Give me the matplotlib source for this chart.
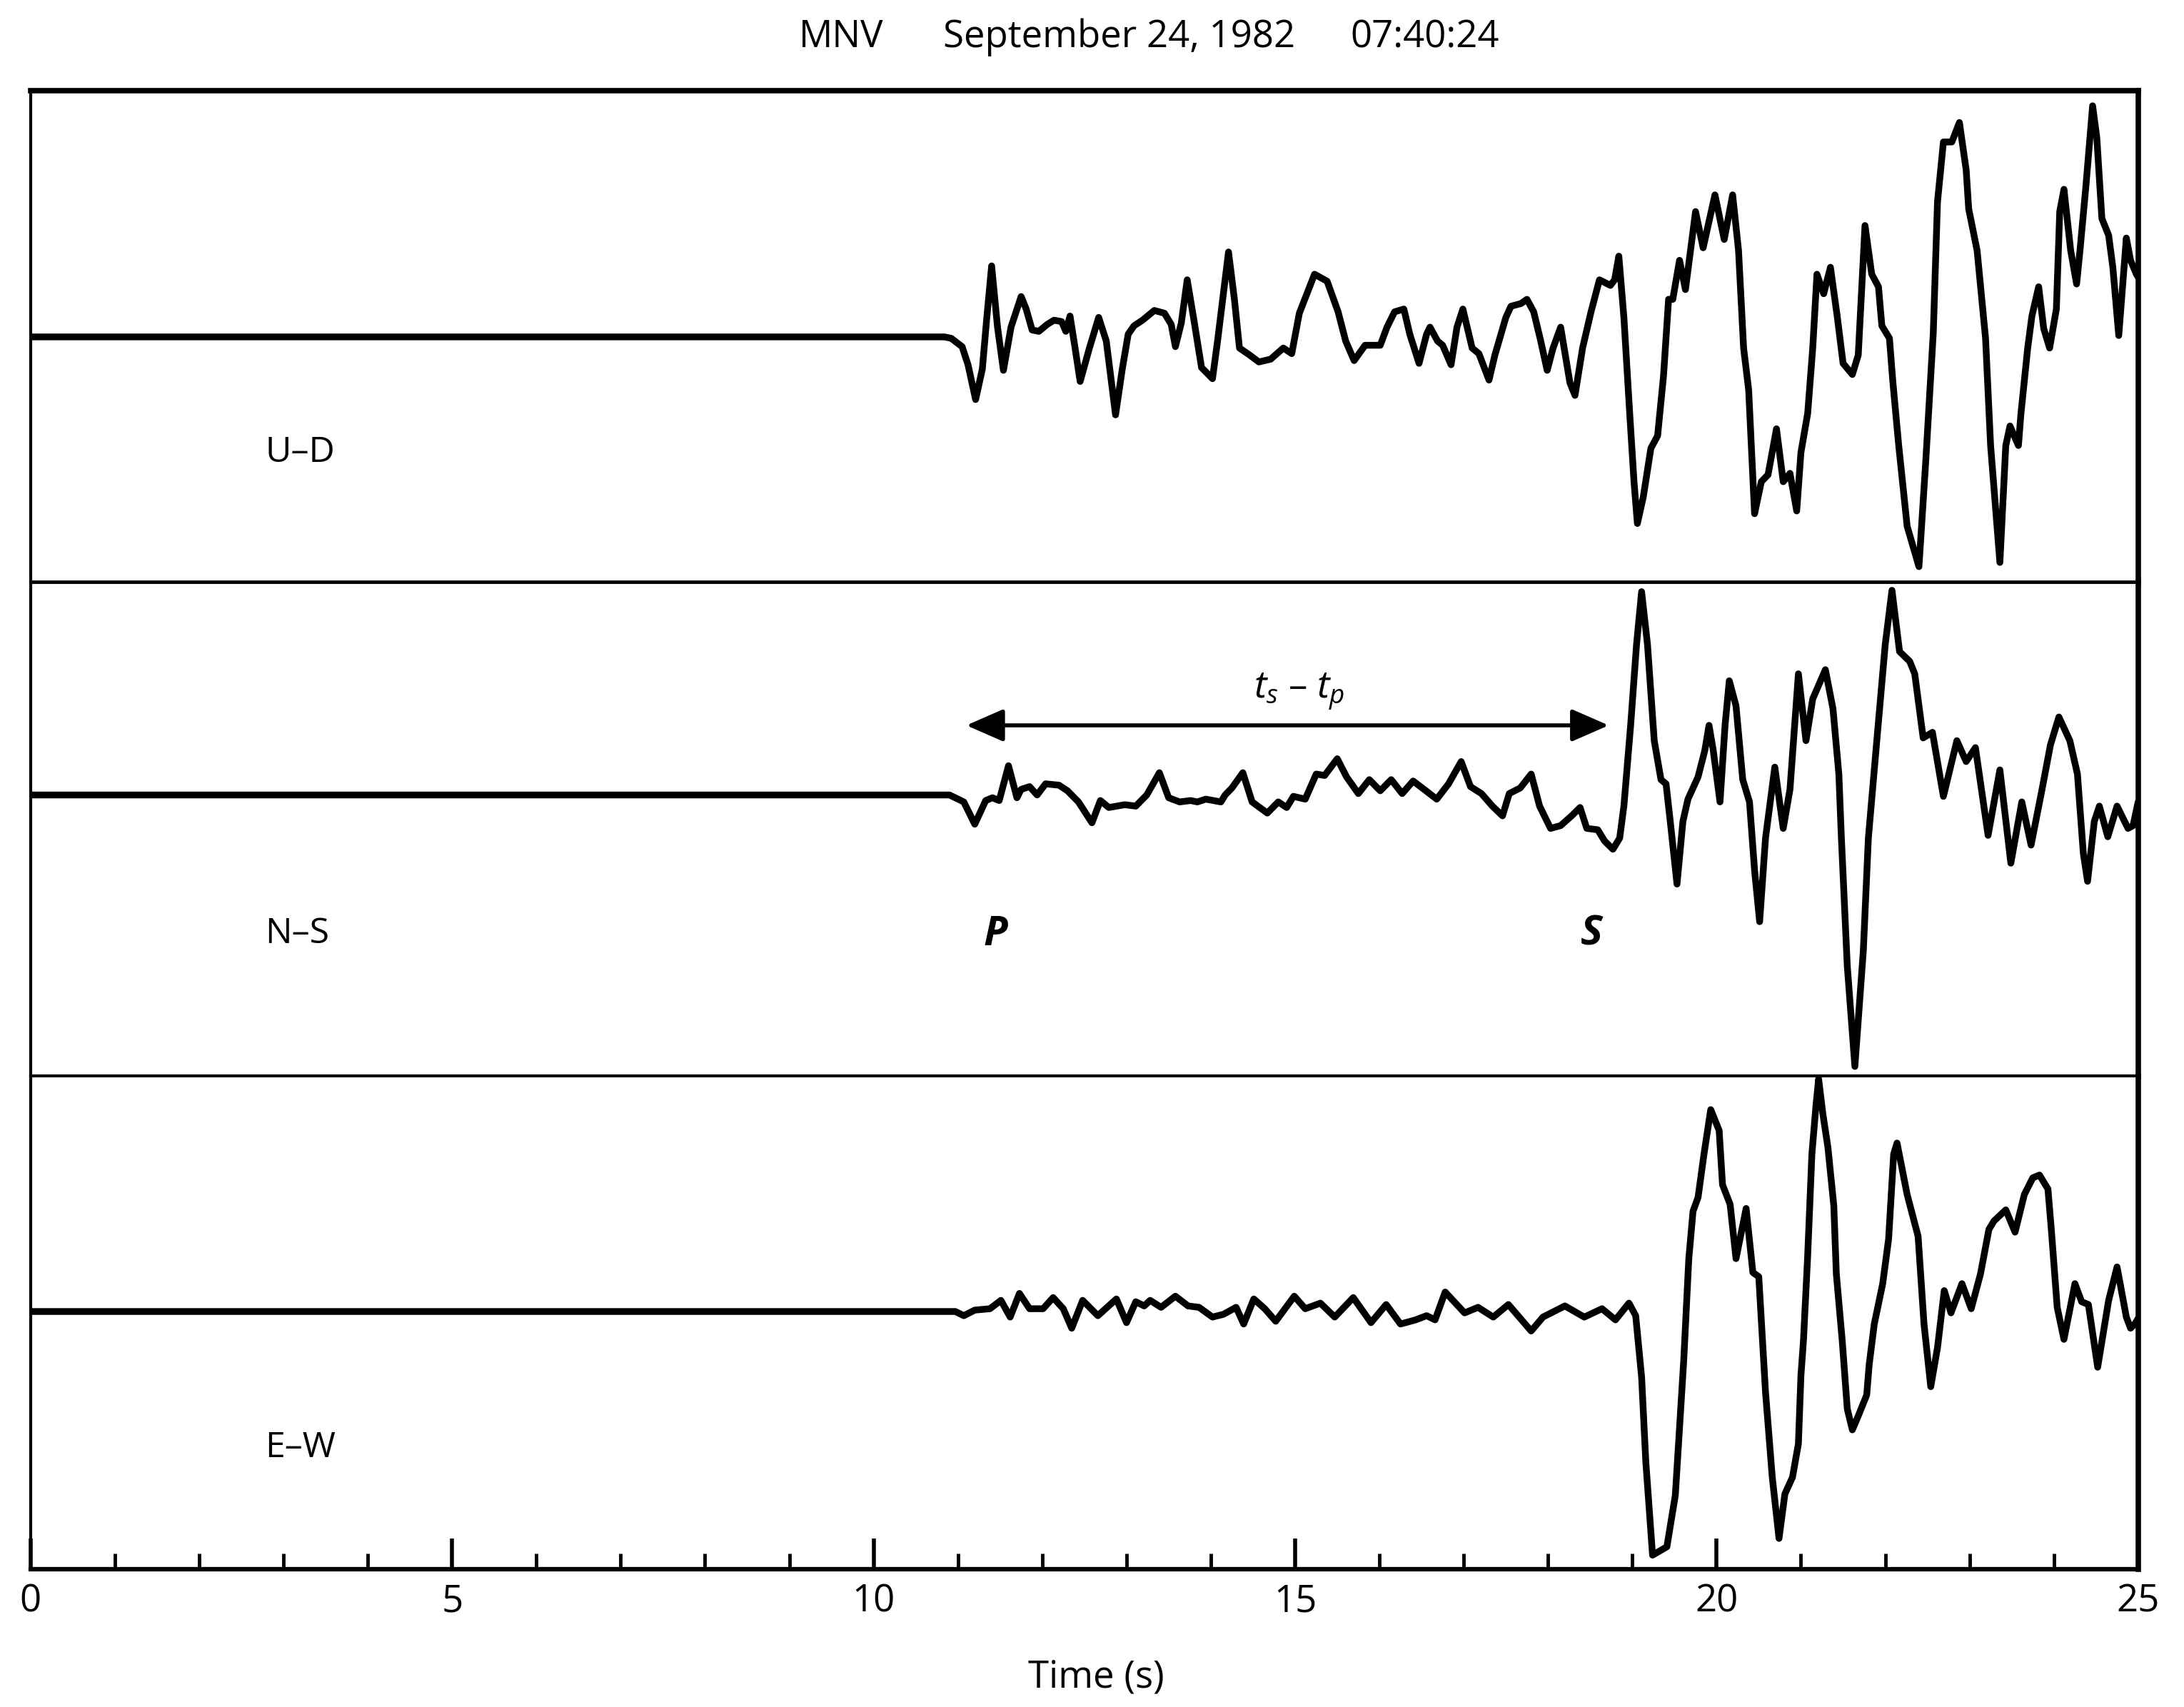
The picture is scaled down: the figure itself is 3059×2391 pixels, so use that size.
import matplotlib.pyplot as plt
import numpy as np

plt.rcParams['font.family'] = ['Open Sans', 'DejaVu Sans']
plt.rcParams['mathtext.fontset'] = 'custom'
plt.rcParams['mathtext.it'] = 'Open Sans:italic'
plt.rcParams['mathtext.rm'] = 'Open Sans'

# time (s) and amplitude (arbitrary units)
ud_t = [0.00, 10.84, 10.92, 11.05, 11.12, 11.21, 11.29, 11.34, 11.40, 11.47,
        11.54, 11.63, 11.75, 11.81, 11.88, 11.96, 12.06, 12.14, 12.23, 12.28,
        12.33, 12.39, 12.45, 12.56, 12.67, 12.76, 12.87, 12.95, 13.02, 13.09,
        13.19, 13.33, 13.45, 13.53, 13.58, 13.65, 13.72, 13.80, 13.89, 14.02,
        14.08, 14.21, 14.28, 14.34, 14.46, 14.57, 14.71, 14.86, 14.96, 15.05,
        15.23, 15.38, 15.51, 15.60, 15.70, 15.83, 16.01, 16.09, 16.18, 16.29,
        16.36, 16.47, 16.56, 16.60, 16.69, 16.75, 16.85, 16.92, 16.99, 17.10,
        17.18, 17.30, 17.37, 17.50, 17.56, 17.68, 17.75, 17.83, 17.91, 17.99,
        18.06, 18.15, 18.26, 18.32, 18.41, 18.51, 18.61, 18.74, 18.79, 18.84,
        18.90, 18.97, 19.02, 19.06, 19.13, 19.22, 19.30, 19.37, 19.43, 19.48,
        19.56, 19.63, 19.75, 19.84, 19.98, 20.09, 20.19, 20.26, 20.32, 20.38,
        20.43, 20.45, 20.53, 20.61, 20.71, 20.79, 20.87, 20.95, 21.00, 21.08,
        21.14, 21.19, 21.27, 21.35, 21.43, 21.50, 21.61, 21.68, 21.76, 21.84,
        21.92, 21.96, 22.05, 22.09, 22.16, 22.26, 22.40, 22.48, 22.57, 22.62,
        22.69, 22.79, 22.88, 22.96, 22.99, 23.09, 23.19, 23.25, 23.36, 23.43,
        23.48, 23.58, 23.61, 23.69, 23.74, 23.82, 23.88, 23.95, 24.03, 24.07,
        24.12, 24.20, 24.27, 24.31, 24.38, 24.46, 24.51, 24.57, 24.65, 24.70,
        24.77, 24.86, 24.91, 24.98, 25.00]
ud_a = [0, 0, -1, -7, -20, -45, -23, 12, 51, 7,
        -24, 7, 29, 20, 5, 4, 9, 12, 11, 4,
        15, -8, -32, -8, 14, -3, -56, -23, 2, 8,
        12, 19, 17, 9, -7, 10, 41, 12, -22, -30,
        -3, 61, 27, -8, -13, -18, -16, -8, -12, 17,
        45, 40, 18, -3, -17, -6, -6, 7, 18, 20,
        2, -19, 2, 7, -3, -6, -20, 7, 20, -8,
        -12, -31, -13, 14, 22, 24, 27, 18, -2, -24,
        -8, 7, -33, -42, -8, 18, 41, 37, 41, 58,
        14, -56, -104, -134, -115, -80, -71, -28, 27, 27,
        55, 34, 90, 64, 102, 70, 102, 62, -8, -38,
        -101, -127, -104, -99, -66, -104, -98, -125, -83, -55,
        -8, 45, 31, 50, 15, -19, -27, -13, 80, 45,
        36, 8, -1, -32, -78, -136, -165, -90, 3, 97,
        140, 140, 154, 120, 92, 62, -1, -78, -162, -78,
        -64, -78, -55, -8, 15, 36, 6, -8, 20, 90,
        106, 62, 38, 62, 108, 166, 143, 85, 73, 50,
        1, 71, 55, 45, 43]

ns_t = [0.00, 10.90, 11.07, 11.20, 11.33, 11.41, 11.49, 11.60, 11.70, 11.75,
        11.85, 11.94, 12.04, 12.20, 12.30, 12.43, 12.59, 12.69, 12.79, 12.98,
        13.11, 13.24, 13.39, 13.50, 13.63, 13.76, 13.84, 13.94, 14.12, 14.17,
        14.25, 14.38, 14.49, 14.67, 14.80, 14.90, 14.98, 15.12, 15.25, 15.35,
        15.50, 15.61, 15.75, 15.88, 16.01, 16.14, 16.27, 16.40, 16.53, 16.68,
        16.82, 16.97, 17.08, 17.21, 17.34, 17.46, 17.54, 17.67, 17.80, 17.90,
        18.03, 18.15, 18.28, 18.38, 18.46, 18.59, 18.67, 18.77, 18.85, 18.90,
        18.98, 19.05, 19.11, 19.18, 19.26, 19.34, 19.40, 19.45, 19.53, 19.60,
        19.66, 19.78, 19.86, 19.91, 19.96, 20.04, 20.10, 20.15, 20.23, 20.31,
        20.39, 20.45, 20.51, 20.58, 20.69, 20.79, 20.87, 20.97, 21.06, 21.14,
        21.29, 21.38, 21.45, 21.48, 21.55, 21.64, 21.74, 21.80, 21.90, 22.00,
        22.08, 22.17, 22.29, 22.35, 22.45, 22.56, 22.69, 22.85, 22.96, 23.07,
        23.22, 23.36, 23.49, 23.62, 23.73, 23.86, 23.96, 24.06, 24.19, 24.28,
        24.35, 24.40, 24.48, 24.54, 24.64, 24.75, 24.88, 24.94, 25.00]
ns_a = [0, 0, -5, -21, -4, -2, -4, 21, -2, 4,
        6, 0, 8, 7, 3, -5, -20, -4, -9, -7,
        -8, 0, 16, -2, -5, -4, -5, -3, -5, 0,
        5, 16, -5, -13, -5, -9, -1, -3, 15, 14,
        26, 13, 1, 11, 3, 11, 1, 10, 4, -3,
        8, 24, 6, 1, -8, -15, 1, 5, 15, -8,
        -24, -22, -15, -9, -24, -25, -33, -39, -31, -8,
        50, 108, 146, 108, 39, 11, 8, -19, -64, -19,
        -3, 13, 32, 50, 32, -5, 50, 82, 64, 11,
        -5, -54, -91, -31, 20, -24, 4, 87, 39, 69,
        90, 62, 15, -31, -123, -195, -112, -31, 39, 108,
        147, 103, 96, 87, 41, 45, -1, 39, 24, 34,
        -29, 18, -49, -5, -36, 4, 36, 56, 39, 15,
        -42, -62, -19, -8, -30, -8, -24, -22, -5]

ew_t = [0.00, 10.97, 11.07, 11.20, 11.38, 11.51, 11.62, 11.73, 11.85, 12.01,
        12.13, 12.25, 12.35, 12.48, 12.66, 12.88, 13.00, 13.11, 13.21, 13.28,
        13.41, 13.58, 13.73, 13.86, 14.02, 14.15, 14.30, 14.39, 14.51, 14.64,
        14.77, 14.99, 15.12, 15.30, 15.47, 15.69, 15.90, 16.08, 16.25, 16.43,
        16.56, 16.66, 16.78, 17.01, 17.17, 17.35, 17.53, 17.80, 17.94, 18.20,
        18.43, 18.64, 18.80, 18.96, 19.04, 19.11, 19.16, 19.24, 19.41, 19.51,
        19.61, 19.67, 19.72, 19.78, 19.85, 19.93, 20.03, 20.07, 20.16, 20.23,
        20.35, 20.43, 20.50, 20.58, 20.66, 20.74, 20.81, 20.90, 20.97, 21.00,
        21.03, 21.08, 21.13, 21.18, 21.21, 21.26, 21.32, 21.39, 21.42, 21.49,
        21.55, 21.61, 21.68, 21.78, 21.81, 21.87, 21.97, 22.04, 22.10, 22.14,
        22.26, 22.39, 22.46, 22.54, 22.62, 22.70, 22.78, 22.91, 23.02, 23.13,
        23.23, 23.29, 23.43, 23.54, 23.65, 23.75, 23.83, 23.93, 23.97, 24.04,
        24.12, 24.25, 24.33, 24.41, 24.52, 24.65, 24.75, 24.86, 24.91, 24.96,
        25.00]
ew_a = [0, 0, -3, 1, 2, 8, -4, 13, 2, 2,
        10, 2, -12, 8, -3, 9, -8, 7, 4, 8,
        3, 11, 4, 3, -4, -2, 3, -9, 9, 2,
        -7, 11, 2, 6, -4, 10, -8, 5, -9, -6,
        -3, -6, 14, -1, 3, -4, 5, -14, -4, 4,
        -4, 2, -6, 6, -3, -47, -108, -175, -169, -132,
        -35, 38, 72, 82, 113, 145, 130, 91, 77, 38,
        74, 28, 25, -58, -119, -163, -131, -119, -95, -46,
        -21, 40, 113, 149, 167, 142, 118, 76, 27, -21,
        -70, -85, -75, -60, -38, -9, 20, 52, 113, 121,
        84, 54, -9, -54, -26, 15, -1, 20, 2, 27,
        59, 65, 73, 57, 84, 96, 98, 88, 59, 3,
        -20, 20, 7, 5, -40, 8, 32, -4, -12, -9,
        -5]

components = ['U–D', 'N–S', 'E–W']
traces = [(ud_t, ud_a), (ns_t, ns_a), (ew_t, ew_a)]
ylims = [(-176, 177), (-202, 153), (-185, 169)]
label_y = [-83, -100, -98]

fig = plt.figure(figsize=(30.59, 23.91), dpi=100)
gs = fig.add_gridspec(3, 1, height_ratios=[353, 355, 354], hspace=0,
                      left=0.0140, right=0.9790, top=0.9470, bottom=0.0808)
axes = []
for i in range(3):
    ax = fig.add_subplot(gs[i], sharex=axes[0] if axes else None)
    t, a = traces[i]
    ax.plot(t, a, color='black', lw=6.8, solid_joinstyle='round',
            solid_capstyle='round')
    ax.set_xlim(0, 25)
    ax.set_ylim(*ylims[i])
    ax.set_yticks([])
    ax.text(2.78, label_y[i], components[i], fontsize=36, ha='left', va='center')
    ax.spines['left'].set_linewidth(3)
    ax.spines['right'].set_linewidth(5.5)
    ax.spines['bottom'].set_visible(False)
    axes.append(ax)

axes[0].spines['top'].set_linewidth(5.5)
axes[1].spines['top'].set_linewidth(3.5)
axes[2].spines['top'].set_linewidth(3)
axes[2].spines['bottom'].set_visible(True)
axes[2].spines['bottom'].set_linewidth(4.5)

for ax in axes[:2]:
    ax.tick_params(axis='x', which='both', bottom=False, labelbottom=False)

ax = axes[2]
ax.set_xticks(np.arange(0, 26, 5))
ax.set_xticks(np.arange(0, 26, 1), minor=True)
ax.tick_params(axis='x', which='major', direction='in', length=31, width=4,
               labelsize=38, pad=14)
ax.tick_params(axis='x', which='minor', direction='in', length=16, width=3.5)

# P / S picks and the S-P interval
ns = axes[1]
ns.annotate('', xy=(11.10, 50), xytext=(18.72, 50),
            arrowprops=dict(arrowstyle='<|-|>,head_length=0.8,head_width=0.35',
                            lw=4, color='black', mutation_scale=40,
                            shrinkA=0, shrinkB=0))
ns.text(15.05, 74, r'$t_s$ – $t_p$', fontsize=38, ha='center', va='center')
ns.text(11.45, -100, 'P', fontsize=42, fontweight='bold', fontstyle='italic',
        ha='center', va='center')
ns.text(18.52, -100, 'S', fontsize=42, fontweight='bold', fontstyle='italic',
        ha='center', va='center')

fig.text(0.385, 0.978, 'MNV', fontsize=38, ha='center', va='center')
fig.text(0.5124, 0.978, 'September 24, 1982', fontsize=38, ha='center', va='center')
fig.text(0.6524, 0.978, '07:40:24', fontsize=38, ha='center', va='center')
fig.text(0.502, 0.0171, 'Time (s)', fontsize=38, ha='center', va='center')

fig.savefig('out.png', dpi=100, facecolor='white')
